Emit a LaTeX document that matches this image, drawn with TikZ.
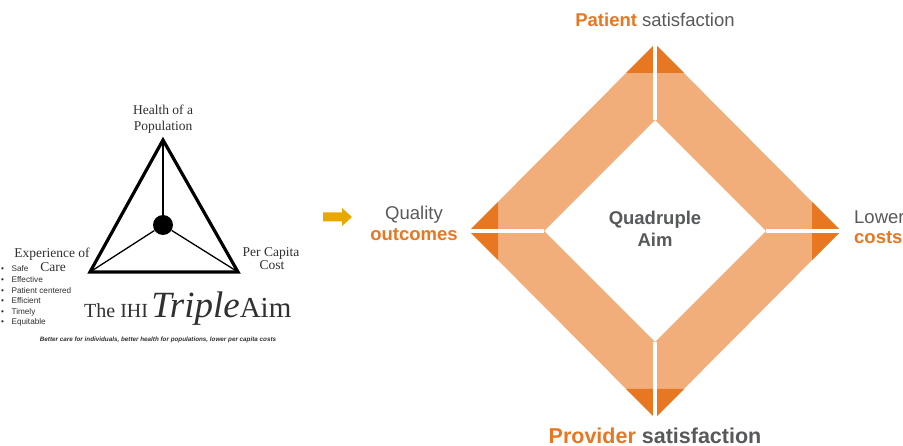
\documentclass[tikz,border=0pt]{standalone}
\usepackage{fontspec}
\setmainfont{Liberation Sans}
\newfontfamily\ihiserif{Liberation Serif}
\usetikzlibrary{positioning,calc}
\definecolor{bandlight}{HTML}{F2AE7A}
\definecolor{banddark}{HTML}{E87722}
\definecolor{aimgray}{HTML}{58595B}
\definecolor{ihigray}{HTML}{303030}
\definecolor{arrowgold}{HTML}{E9A800}
\tikzset{band/.style={
            fill=bandlight
        },
        tipband/.style={
            fill=banddark
        },
        gap/.style={
            draw=white,
            line width=3.5pt
        },
        aimlabel/.style={
            inner sep=0pt,
            anchor=base,
            text=aimgray,
            font=\fontsize{18.5}{22}\selectfont
        },
        aimbold/.style={
            aimlabel,
            text=banddark,
            font=\bfseries\fontsize{18.5}{22}\selectfont
        },
        ihilabel/.style={
            inner sep=0pt,
            anchor=base,
            text=ihigray,
            font=\ihiserif\fontsize{13.5}{16}\selectfont
        },
        bulletitem/.style={
            inner sep=0pt,
            anchor=base west,
            text=ihigray,
            font=\fontsize{8.2}{10}\selectfont
        },
        rim/.style={
            line width=3.2pt,
            miter limit=20
        },
        spoke/.style={
            line width=1.3pt
        }
    }

\begin{document}
\begin{tikzpicture}[x=1pt,y=-1pt]
        \fill[white] (0,0) rectangle (903,446);
        \useasboundingbox (0,0) rectangle (903,446);

        % IHI triple aim
        \coordinate (apex) at (163,140);
        \coordinate (carecorner) at (90,272);
        \coordinate (costcorner) at (238,272);
        \node[circle,fill=black,minimum size=20pt,inner sep=0pt] at (163,225) (hub) {};
        \draw[rim] (apex) -- (carecorner) -- (costcorner) -- cycle;
        \draw[spoke] (hub) -- (apex);
        \draw[spoke] (hub) -- (carecorner);
        \draw[spoke] (hub) -- (costcorner);
        \node[ihilabel] at (163,115) (health) {Health of a};
        \node[ihilabel] at (163,131) (population) {Population};
        \node[ihilabel] at (52,258) (experience) {Experience of};
        \node[ihilabel] at (53,272) (care) {Care};
        \node[ihilabel] at (271,257) (percapita) {Per Capita};
        \node[ihilabel] at (272,270) (cost) {Cost};
        \foreach \attr [count=\i from 0] in {Safe,Effective,Patient centered,Efficient,Timely,Equitable}
            \node[bulletitem] at (1,272+10.6*\i) (attr\i) {\textbullet\hspace{7.5pt}\attr};
        \node[ihilabel,anchor=base west,font=\ihiserif] at (84,318) (ihi)
            {\fontsize{20}{24}\selectfont The IHI\,{\itshape\fontsize{37}{40}\selectfont Triple}\fontsize{29}{32}\selectfont Aim};
        \node[inner sep=0pt,text=ihigray,font=\bfseries\itshape\fontsize{6.3}{7}\selectfont] at (158,340) (slogan)
            {Better care for individuals, better health for populations, lower per capita costs};

        \fill[arrowgold] (323,212.5) -- (342,212.5) -- (342,208) -- (352,217) -- (342,226) -- (342,221.5) -- (323,221.5) -- cycle;

        % quadruple aim
        \coordinate (otop) at (655,44);
        \coordinate (obot) at (655,418);
        \coordinate (olft) at (469,231);
        \coordinate (orgt) at (841,231);
        \coordinate (itop) at (655,120);
        \coordinate (ibot) at (655,342);
        \coordinate (ilft) at (544,231);
        \coordinate (irgt) at (766,231);
        \fill[band,even odd rule] (otop) -- (orgt) -- (obot) -- (olft) -- cycle
            (itop) -- (irgt) -- (ibot) -- (ilft) -- cycle;
        \fill[tipband] (otop) -- ++(29,29) -- ++(-58,0) -- cycle;
        \fill[tipband] (obot) -- ++(29,-29) -- ++(-58,0) -- cycle;
        \fill[tipband] (olft) -- ++(29,-29) -- ++(0,58) -- cycle;
        \fill[tipband] (orgt) -- ++(-29,-29) -- ++(0,58) -- cycle;
        \draw[gap] (otop) -- (itop);
        \draw[gap] (ibot) -- (obot);
        \draw[gap] (olft) -- (ilft);
        \draw[gap] (irgt) -- (orgt);

        \node[aimlabel] at (655,27) (patient) {\textbf{\color{banddark}Patient} satisfaction};
        \node[aimlabel] at (414,220) (quality) {Quality};
        \node[aimbold] at (414,241) (outcomes) {outcomes};
        \node[aimlabel,anchor=base west] at (854,224) (lower) {Lower};
        \node[aimbold,anchor=base west] at (854,244) (costs) {costs};
        \node[aimbold,text=aimgray] at (655,225) (quadruple) {Quadruple};
        \node[aimbold,text=aimgray] at (655,247) (aim) {Aim};
        \node[aimbold,text=aimgray,font=\bfseries\fontsize{21.5}{26}\selectfont] at (655,443) (provider)
            {{\color{banddark}Provider} satisfaction};
    \end{tikzpicture}
\end{document}
